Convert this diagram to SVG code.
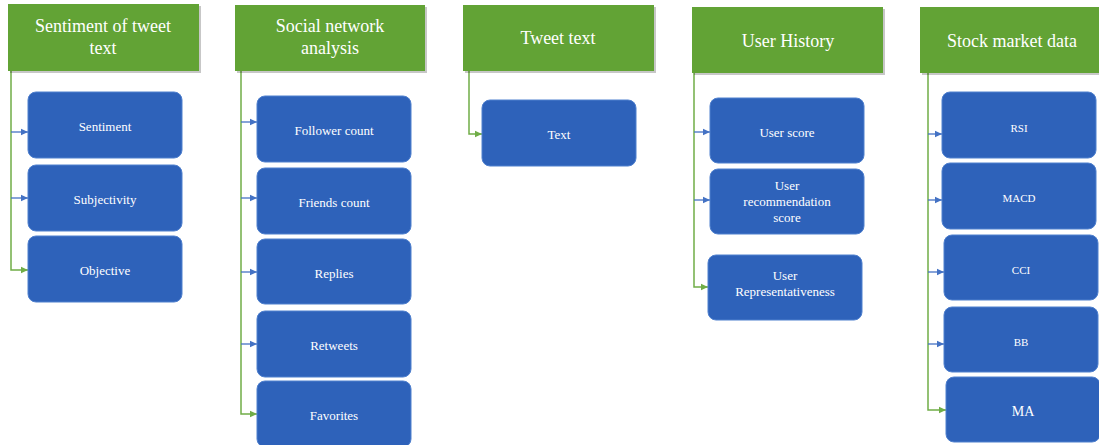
<svg xmlns="http://www.w3.org/2000/svg" width="1099" height="445" viewBox="0 0 1099 445">
<defs>
<marker id="ab" markerWidth="8" markerHeight="8" refX="7" refY="4" orient="auto" markerUnits="userSpaceOnUse"><path d="M0,0.8 L7,4 L0,7.2 Z" fill="#4472C4"/></marker>
<marker id="ag" markerWidth="8" markerHeight="8" refX="7" refY="4" orient="auto" markerUnits="userSpaceOnUse"><path d="M0,0.8 L7,4 L0,7.2 Z" fill="#70AD47"/></marker>
</defs>
<style>
.hd{fill:#62A335}
.sh{fill:#000;opacity:0.22}
.bx{fill:#2E62BA;stroke:#4F80CE;stroke-width:1}
.ht{font-family:"Liberation Serif",serif;font-size:18px;fill:#fff;text-anchor:middle}
.bt{font-family:"Liberation Serif",serif;font-size:13px;fill:#fff;text-anchor:middle}
.st{font-family:"Liberation Serif",serif;font-size:11px;fill:#fff;text-anchor:middle}
.gl{fill:none;stroke:#70AD47;stroke-width:1.5}
.bl{fill:none;stroke:#4472C4;stroke-width:1.3}
</style>
<rect width="1099" height="445" fill="#fff"/>
<g id="connectors">
<path class="gl" d="M11,71 V270 H28" marker-end="url(#ag)"/>
<path class="bl" d="M11,132 H28" marker-end="url(#ab)"/>
<path class="bl" d="M11,198 H28" marker-end="url(#ab)"/>
<path class="gl" d="M241,71 V414 H257" marker-end="url(#ag)"/>
<path class="bl" d="M241,122 H257" marker-end="url(#ab)"/>
<path class="bl" d="M241,198 H257" marker-end="url(#ab)"/>
<path class="bl" d="M241,272 H257" marker-end="url(#ab)"/>
<path class="bl" d="M241,344 H257" marker-end="url(#ab)"/>
<path class="gl" d="M469,71 V134 H482" marker-end="url(#ag)"/>
<path class="gl" d="M694,73 V287 H708" marker-end="url(#ag)"/>
<path class="bl" d="M694,132 H710" marker-end="url(#ab)"/>
<path class="bl" d="M694,200 H710" marker-end="url(#ab)"/>
<path class="gl" d="M928,73 V410 H946" marker-end="url(#ag)"/>
<path class="bl" d="M928,134 H942" marker-end="url(#ab)"/>
<path class="bl" d="M928,200 H942" marker-end="url(#ab)"/>
<path class="bl" d="M928,272 H944" marker-end="url(#ab)"/>
<path class="bl" d="M928,344 H944" marker-end="url(#ab)"/>
</g>
<g id="h1"><rect class="sh" x="10" y="6" width="191" height="67"/><rect class="hd" x="8" y="4" width="191" height="67"/><text class="ht" x="103" y="32">Sentiment of tweet</text><text class="ht" x="103" y="54">text</text></g>
<g id="n-sentiment"><rect class="bx" x="28" y="92" width="154" height="66" rx="8"/><text class="bt" x="105" y="131">Sentiment</text></g>
<g id="n-subjectivity"><rect class="bx" x="28" y="165" width="154" height="66" rx="8"/><text class="bt" x="105" y="204">Subjectivity</text></g>
<g id="n-objective"><rect class="bx" x="28" y="236" width="154" height="66" rx="8"/><text class="bt" x="105" y="275">Objective</text></g>

<g id="h2"><rect class="sh" x="237" y="7" width="190" height="66"/><rect class="hd" x="235" y="5" width="190" height="66"/><text class="ht" x="330" y="32">Social network</text><text class="ht" x="330" y="54">analysis</text></g>
<g id="n-follower"><rect class="bx" x="257" y="96" width="154" height="66" rx="8"/><text class="bt" x="334" y="135">Follower count</text></g>
<g id="n-friends"><rect class="bx" x="257" y="168" width="154" height="66" rx="8"/><text class="bt" x="334" y="207">Friends count</text></g>
<g id="n-replies"><rect class="bx" x="257" y="239" width="154" height="65" rx="8"/><text class="bt" x="334" y="278">Replies</text></g>
<g id="n-retweets"><rect class="bx" x="257" y="311" width="154" height="66" rx="8"/><text class="bt" x="334" y="350">Retweets</text></g>
<g id="n-favorites"><rect class="bx" x="257" y="381" width="154" height="66" rx="8"/><text class="bt" x="334" y="420">Favorites</text></g>

<g id="h3"><rect class="sh" x="465" y="7" width="191" height="66"/><rect class="hd" x="463" y="5" width="191" height="66"/><text class="ht" x="558" y="44">Tweet text</text></g>
<g id="n-text"><rect class="bx" x="482" y="100" width="154" height="66" rx="8"/><text class="bt" x="559" y="139">Text</text></g>

<g id="h4"><rect class="sh" x="694" y="9" width="191" height="66"/><rect class="hd" x="692" y="7" width="191" height="66"/><text class="ht" x="788" y="47">User History</text></g>
<g id="n-userscore"><rect class="bx" x="710" y="98" width="154" height="65" rx="8"/><text class="bt" x="787" y="137">User score</text></g>
<g id="n-userrec"><rect class="bx" x="710" y="169" width="154" height="65" rx="8"/><text class="bt" x="787" y="190">User</text><text class="bt" x="787" y="206">recommendation</text><text class="bt" x="787" y="222">score</text></g>
<g id="n-userrep"><rect class="bx" x="708" y="255" width="154" height="65" rx="8"/><text class="bt" x="785" y="280">User</text><text class="bt" x="785" y="296">Representativeness</text></g>

<g id="h5"><rect class="sh" x="922" y="9" width="180" height="66"/><rect class="hd" x="920" y="7" width="182" height="66"/><text class="ht" x="1012" y="47">Stock market data</text></g>
<g id="n-rsi"><rect class="bx" x="942" y="92" width="154" height="66" rx="8"/><text class="st" x="1019" y="132">RSI</text></g>
<g id="n-macd"><rect class="bx" x="942" y="163" width="154" height="66" rx="8"/><text class="st" x="1019" y="202">MACD</text></g>
<g id="n-cci"><rect class="bx" x="944" y="235" width="154" height="65" rx="8"/><text class="st" x="1021" y="274">CCI</text></g>
<g id="n-bb"><rect class="bx" x="944" y="307" width="154" height="65" rx="8"/><text class="st" x="1021" y="346">BB</text></g>
<g id="n-ma"><rect class="bx" x="946" y="377" width="154" height="65" rx="8"/><text class="bt" x="1023" y="416" style="font-size:14px">MA</text></g>
</svg>
